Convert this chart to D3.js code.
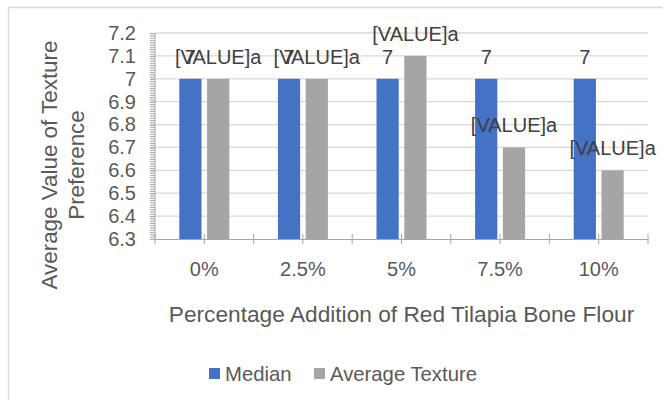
<!DOCTYPE html>
<html>
<head>
<meta charset="utf-8">
<script src="https://cdn.jsdelivr.net/npm/d3@7"></script>
<style>
  body { margin: 0; background: #fff; }
  svg { display: block; font-family: "Liberation Sans", Arial, sans-serif; }
  .axis text { fill: #595959; }
</style>
</head>
<body>
<svg id="chart"></svg>
<script>
// chart data
const categories = ['0%', '2.5%', '5%', '7.5%', '10%'];
const seriesNames = ['Median', 'Average Texture'];
const medianValues = [7, 7, 7, 7, 7];
const averageValues = [7, 7, 7.1, 6.7, 6.6];
const medianLabels = ['7', '7', '7', '7', '7'];
const averageLabels = ['[VALUE]a', '[VALUE]a', '[VALUE]a', '[VALUE]a', '[VALUE]a'];
const yTickValues = [6.3, 6.4, 6.5, 6.6, 6.7, 6.8, 6.9, 7, 7.1, 7.2];
const yTickLabels = ['6.3', '6.4', '6.5', '6.6', '6.7', '6.8', '6.9', '7', '7.1', '7.2'];

const colors = ['#4472C4', '#A5A5A5'];

const width = 663, height = 400;
const margin = {top: 33, right: 15, bottom: 161, left: 155};
const innerW = width - margin.left - margin.right;
const innerH = height - margin.top - margin.bottom;

const svg = d3.select('#chart')
    .attr('width', width)
    .attr('height', height);

// chart area border (runs past the right and bottom edges)
svg.append('rect')
    .attr('x', 8.5).attr('y', 7.5)
    .attr('width', 720).attr('height', 440)
    .attr('fill', '#fff')
    .attr('stroke', '#D9D9D9')
    .attr('stroke-width', 1.5);

const chart = svg.append('g')
    .attr('transform', `translate(${margin.left},${margin.top})`);

// scales
const x0 = d3.scaleBand()
    .domain(categories)
    .range([0, innerW]);

const x1 = d3.scaleBand()
    .domain(seriesNames)
    .range([0, 50])
    .paddingInner(0.2);

const y = d3.scaleLinear()
    .domain([6.3, 7.2])
    .range([innerH, 0]);

// gridlines
chart.append('g')
    .selectAll('line')
    .data(yTickValues.slice(1))
    .join('line')
    .attr('x1', 0).attr('x2', innerW)
    .attr('y1', d => y(d)).attr('y2', d => y(d))
    .attr('stroke', '#D9D9D9')
    .attr('stroke-width', 1.3);

// bars
const rows = categories.map((c, i) => ({
  cat: c,
  values: [
    {key: seriesNames[0], value: medianValues[i], label: medianLabels[i]},
    {key: seriesNames[1], value: averageValues[i], label: averageLabels[i]}
  ]
}));

const groups = chart.append('g')
    .selectAll('g')
    .data(rows)
    .join('g')
    .attr('transform', d => `translate(${x0(d.cat) + x0.bandwidth() / 2 - 25},0)`);

groups.selectAll('rect')
    .data(d => d.values)
    .join('rect')
    .attr('x', d => x1(d.key))
    .attr('y', d => y(d.value))
    .attr('width', x1.bandwidth())
    .attr('height', d => innerH - y(d.value))
    .attr('fill', (d, i) => colors[i]);

// minor ticks on the value axis
const minorTicks = d3.range(630, 721).map(d => d / 100);
chart.append('g')
    .attr('class', 'axis')
    .call(d3.axisLeft(y).tickValues(minorTicks).tickSize(5).tickFormat(''))
    .call(g => g.select('.domain').remove())
    .call(g => g.selectAll('line').attr('stroke', '#A6A6A6'));

// value axis
const yAxis = d3.axisLeft(y)
    .tickValues(yTickValues)
    .tickSize(5)
    .tickPadding(14)
    .tickFormat((d, i) => yTickLabels[i]);

chart.append('g')
    .attr('class', 'axis')
    .call(yAxis)
    .call(g => g.select('.domain').attr('stroke', '#A6A6A6').attr('d', `M0,0V${innerH}`))
    .call(g => g.selectAll('line').attr('stroke', '#A6A6A6'))
    .call(g => g.selectAll('text').attr('font-size', 20));

// category axis
const xAxis = d3.axisBottom(x0)
    .tickSize(5)
    .tickPadding(18)
    .tickSizeOuter(0);

const xAxisG = chart.append('g')
    .attr('class', 'axis')
    .attr('transform', `translate(0,${innerH})`)
    .call(xAxis)
    .call(g => g.select('.domain').attr('stroke', '#A6A6A6'))
    .call(g => g.selectAll('line').attr('stroke', '#A6A6A6').attr('y1', -5))
    .call(g => g.selectAll('text').attr('font-size', 20));

// ticks between categories
xAxisG.append('g')
    .selectAll('line')
    .data(d3.range(categories.length + 1))
    .join('line')
    .attr('x1', d => d * x0.step()).attr('x2', d => d * x0.step())
    .attr('y1', -5).attr('y2', 5)
    .attr('stroke', '#A6A6A6');

// data labels
groups.selectAll('text.label')
    .data(d => d.values)
    .join('text')
    .attr('class', 'label')
    .attr('x', d => x1(d.key) + x1.bandwidth() / 2)
    .attr('y', d => y(d.value) - 15)
    .attr('text-anchor', 'middle')
    .attr('font-size', 20)
    .attr('fill', '#404040')
    .text(d => d.label);

// axis titles
svg.append('text')
    .attr('x', margin.left + innerW / 2)
    .attr('y', 322)
    .attr('text-anchor', 'middle')
    .attr('font-size', 22.7)
    .attr('fill', '#595959')
    .text('Percentage Addition of Red Tilapia Bone Flour');

const yTitle = svg.append('text')
    .attr('transform', 'translate(0,165) rotate(-90)')
    .attr('text-anchor', 'middle')
    .attr('font-size', 22.4)
    .attr('fill', '#595959');
yTitle.append('tspan').attr('x', 0).attr('y', 57).text('Average Value of Texture');
yTitle.append('tspan').attr('x', 0).attr('y', 84).text('Preference');

// legend
const legendX = [209, 314];
const legend = svg.append('g')
    .selectAll('g')
    .data(seriesNames)
    .join('g')
    .attr('transform', (d, i) => `translate(${legendX[i]},0)`);

legend.append('rect')
    .attr('x', 0).attr('y', 368)
    .attr('width', 11).attr('height', 11)
    .attr('fill', (d, i) => colors[i]);

legend.append('text')
    .attr('x', 16).attr('y', 381)
    .attr('font-size', 20.3)
    .attr('fill', '#595959')
    .text(d => d);
</script>
</body>
</html>
